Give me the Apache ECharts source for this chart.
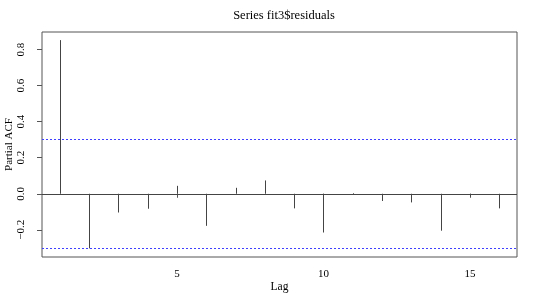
<!DOCTYPE html>
<html>
<head>
<meta charset="utf-8">
<script src="https://cdn.jsdelivr.net/npm/echarts@6/dist/echarts.min.js"></script>
<style>
  html, body { margin: 0; padding: 0; background: #fff; }
  #main { width: 533px; height: 299px; }
</style>
</head>
<body>
<div id="main"></div>
<script>
// lags and partial autocorrelations
var lags = [1, 2, 3, 4, 5, 6, 7, 8, 9, 10, 11, 12, 13, 14, 15, 16];
var pacf = [0.853, -0.303, -0.104, -0.083, 0.044, -0.178, 0.033, 0.074,
            -0.081, -0.215, 0.004, -0.040, -0.048, -0.205, -0.015, -0.081];
var ciBounds = [0.303, -0.303];   // 95% band (dashed blue)
var xTicks = [5, 10, 15];
var yTicks = [-0.2, 0, 0.2, 0.4, 0.6, 0.8];

var font = 'Liberation Serif';
var chart = echarts.init(document.getElementById('main'));

var spikeData = lags.map(function (l, i) { return [l, pacf[i]]; });

// horizontal line across the whole plot at a given y value
function hLineSeries(values, style) {
  return {
    type: 'custom',
    data: values.map(function (v) { return [v]; }),
    silent: true,
    z: 3,
    renderItem: function (params, api) {
      var cs = params.coordSys;
      var y = Math.round(api.coord([1, api.value(0)])[1]) + 0.5;
      return {
        type: 'line',
        shape: { x1: cs.x, y1: y, x2: cs.x + cs.width, y2: y },
        style: style
      };
    }
  };
}

var option = {
  animation: false,
  title: {
    text: 'Series fit3$residuals',
    left: 279,
    top: 4,
    textAlign: 'center',
    textStyle: { fontFamily: font, fontWeight: 'normal', fontSize: 12.5, color: '#000' }
  },
  grid: {
    left: 42, right: 16, top: 32, bottom: 42,
    outerBoundsMode: 'none',
    containLabel: false,
    show: true, borderColor: '#555', borderWidth: 1
  },
  xAxis: {
    type: 'value',
    min: 0.4,
    max: 16.6,
    name: 'Lag',
    nameLocation: 'middle',
    nameGap: 24,
    nameMoveOverlap: false,
    nameTextStyle: { fontFamily: font, fontSize: 11.5, color: '#000' },
    axisLine: { show: false },
    splitLine: { show: false },
    axisTick: { show: true, length: 4, customValues: xTicks, lineStyle: { color: '#555' } },
    axisLabel: { customValues: xTicks, margin: 12, fontFamily: font, fontSize: 11, color: '#000' }
  },
  yAxis: {
    type: 'value',
    min: -0.351,
    max: 0.898,
    name: 'Partial ACF',
    nameLocation: 'middle',
    nameGap: 27,
    nameMoveOverlap: false,
    nameRotate: 90,
    nameTextStyle: { fontFamily: font, fontSize: 11, color: '#000' },
    axisLine: { show: false },
    splitLine: { show: false },
    axisTick: { show: true, length: 5, customValues: yTicks, lineStyle: { color: '#555' } },
    axisLabel: {
      customValues: yTicks,
      rotate: 90,
      margin: 9,
      padding: [0, 0, 6, 0],
      align: 'center',
      verticalAlign: 'bottom',
      fontFamily: font, fontSize: 11, color: '#000',
      formatter: function (v) {
        var s = Math.abs(v).toFixed(1);
        return v < -1e-9 ? '\u2212' + s : s;
      }
    }
  },
  series: [{
    type: 'custom',
    data: spikeData,
    silent: true,
    renderItem: function (params, api) {
      var p0 = api.coord([api.value(0), 0]);
      var p1 = api.coord([api.value(0), api.value(1)]);
      return {
        type: 'line',
        shape: { x1: Math.round(p0[0]) + 0.5, y1: p0[1], x2: Math.round(p1[0]) + 0.5, y2: p1[1] },
        style: { stroke: '#444', lineWidth: 1 }
      };
    }
  },
  hLineSeries([0], { stroke: '#444', lineWidth: 1 }),
  hLineSeries(ciBounds, { stroke: '#3f3fff', lineWidth: 1, lineDash: [2, 2] })]
};

chart.setOption(option);
</script>
</body>
</html>
